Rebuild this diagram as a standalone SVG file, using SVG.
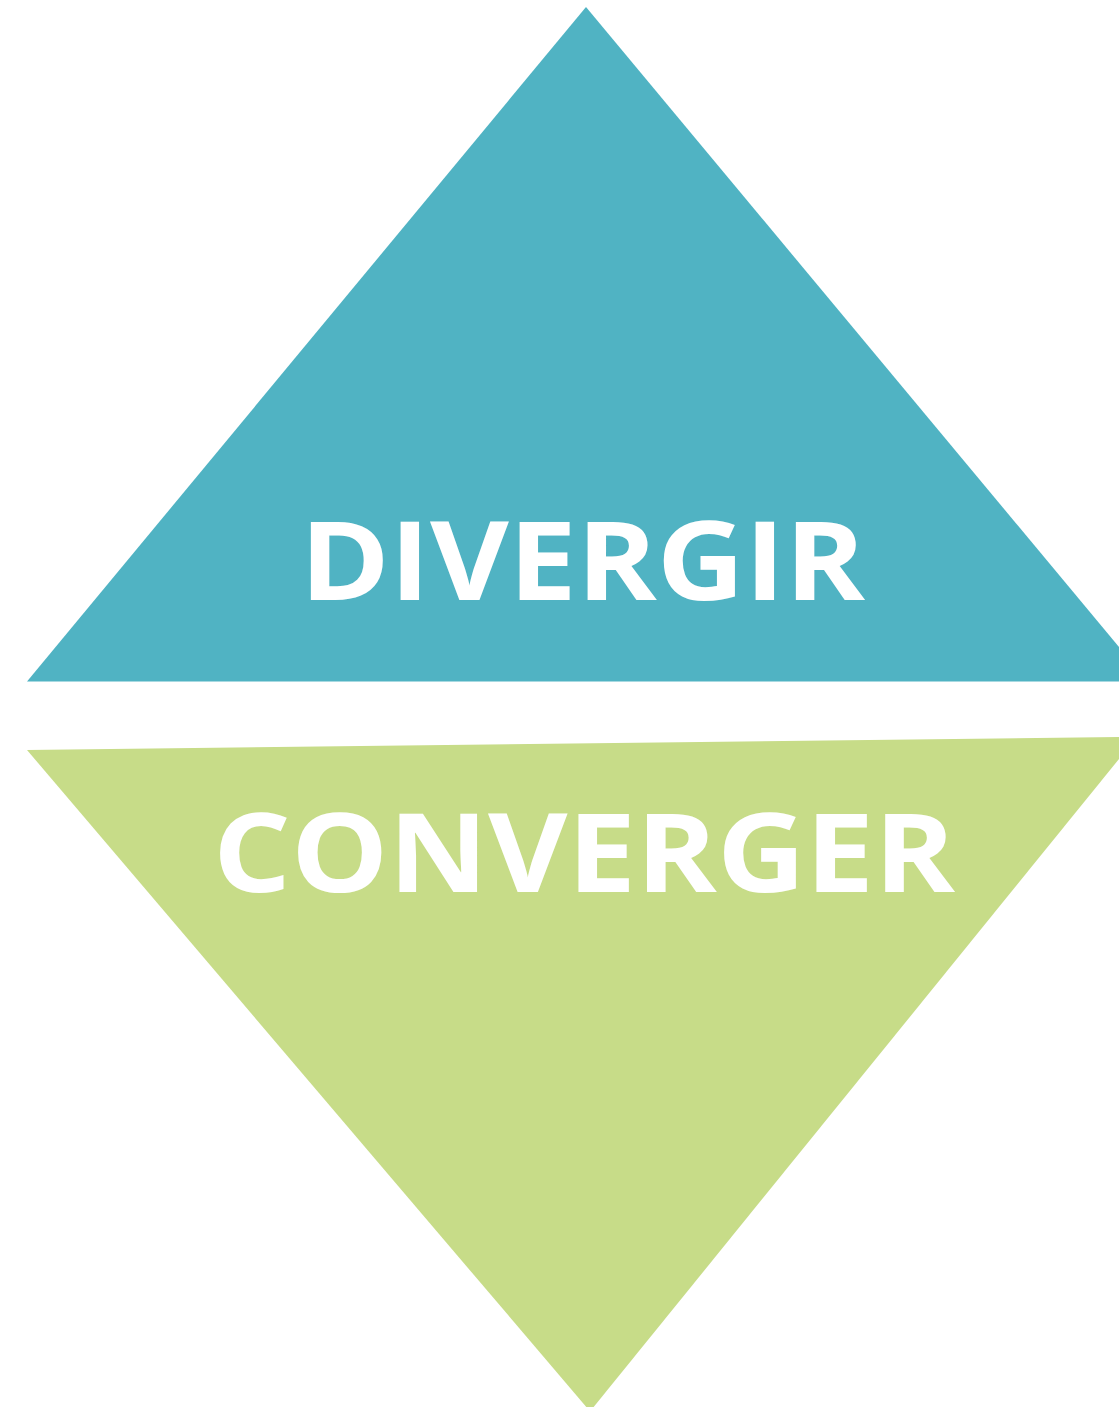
<svg xmlns="http://www.w3.org/2000/svg" width="1119" height="1407" viewBox="0 0 1119 1407">
<style>
.lbl{font-family:"Open Sans","Liberation Sans",sans-serif;font-weight:700;fill:#FFFFFF;font-size:109px}
</style>
<rect width="1119" height="1407" fill="#FFFFFF"/>
<g id="divergir">
<polygon points="586,7 1119,647 1119,681.5 27,681.5" fill="#50B3C3"/>
<text class="lbl" x="300" y="600" textLength="565" lengthAdjust="spacingAndGlyphs">DIVERGIR</text>
</g>
<g id="converger">
<polygon points="27,750 1119,737 1119,759 592,1409 588,1409" fill="#C7DC88"/>
<text class="lbl" x="213" y="892" textLength="742" lengthAdjust="spacingAndGlyphs">CONVERGER</text>
</g>
<g id="connectors"></g>
</svg>
